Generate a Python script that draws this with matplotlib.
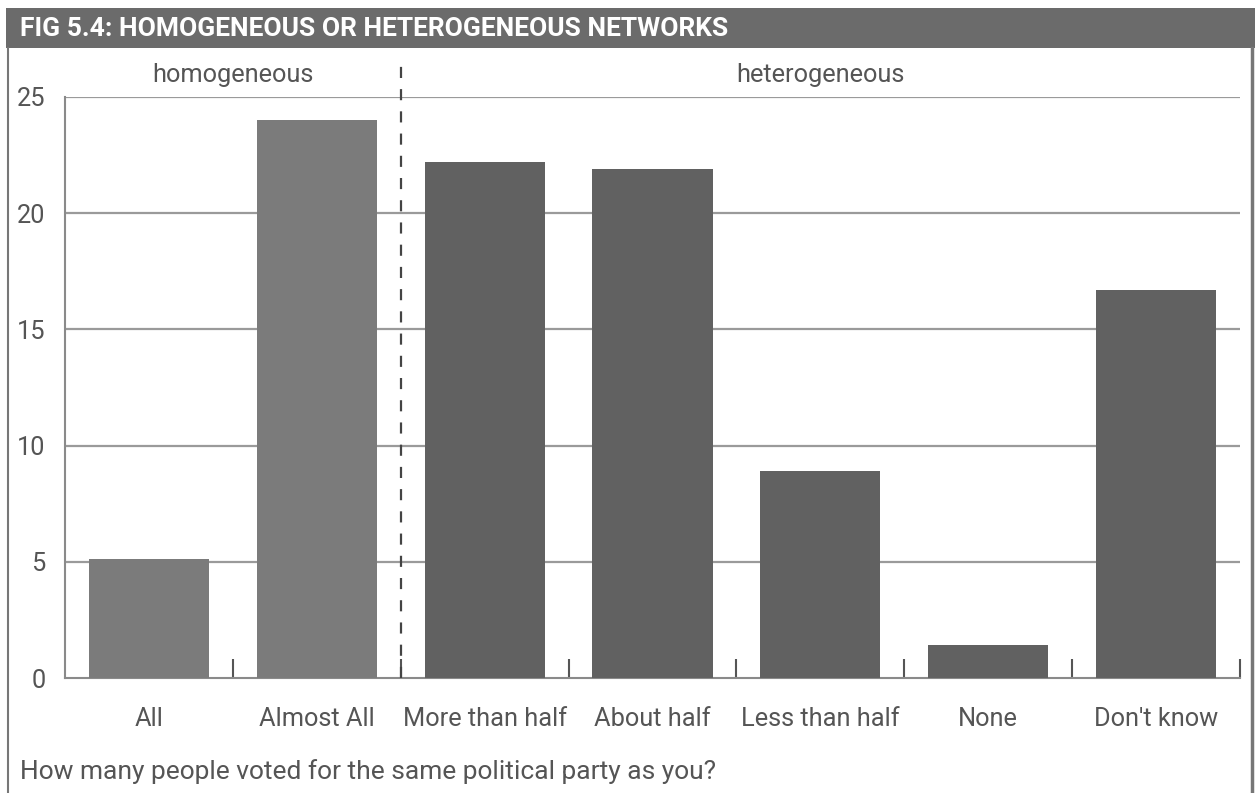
import matplotlib
matplotlib.use("Agg")
import matplotlib.pyplot as plt
from matplotlib.patches import Rectangle
from matplotlib.lines import Line2D

categories = ["All", "Almost All", "More than half", "About half", "Less than half", "None", "Don't know"]
values = [5.1, 24.0, 22.2, 21.9, 8.9, 1.4, 16.7]
groups = ["homogeneous", "homogeneous", "heterogeneous", "heterogeneous", "heterogeneous", "heterogeneous", "heterogeneous"]
yticks = [0, 5, 10, 15, 20, 25]
title = "FIG 5.4: HOMOGENEOUS OR HETEROGENEOUS NETWORKS"
xlabel = "How many people voted for the same political party as you?"

group_colors = {"homogeneous": "#7b7b7b", "heterogeneous": "#616161"}
text_color = "#555555"
plt.rcParams['font.family'] = ['Roboto', 'DejaVu Sans']
FS = 18.3

W, H = 1255, 793
fig = plt.figure(figsize=(W / 100, H / 100), dpi=100)

def fx(px):
    return px / W

def fy(py):
    return 1 - py / H

# title bar
fig.patches.append(Rectangle((fx(6), fy(48)), fx(1255) - fx(6), fy(8) - fy(48),
                             transform=fig.transFigure, facecolor="#6b6b6b", edgecolor="none", zorder=0))
fig.text(fx(20), fy(29), title, color="white", fontsize=19, fontweight="bold",
         va="center", ha="left")
# frame borders
fig.lines.append(Line2D([fx(8), fx(8)], [fy(48), fy(793)], transform=fig.transFigure,
                        color="#777777", lw=1.5))
fig.lines.append(Line2D([fx(1252), fx(1252)], [fy(48), fy(793)], transform=fig.transFigure,
                        color="#777777", lw=2.5))

ax = fig.add_axes([fx(65), fy(678), fx(1240) - fx(65), fy(97) - fy(678)])
x = list(range(len(categories)))
ax.bar(x, values, width=0.715, color=[group_colors[g] for g in groups], zorder=3)
ax.set_xlim(-0.5, len(categories) - 0.5)
ax.set_ylim(0, 25)
ax.set_yticks(yticks)
ax.set_yticklabels([str(t) for t in yticks])
ax.set_xticks(x)
ax.set_xticklabels(categories)
ax.set_xticks([i + 0.5 for i in x], minor=True)
ax.tick_params(axis="x", which="major", length=0, pad=21, labelsize=FS, labelcolor=text_color)
ax.tick_params(axis="x", which="minor", direction="in", length=14, width=1.5, color="#555555")
ax.tick_params(axis="y", length=0, pad=14, labelsize=FS, labelcolor=text_color)
for yv in yticks[1:]:
    ax.axhline(yv, color="#9a9a9a", lw=1.6, zorder=1)
for s in ["top", "right"]:
    ax.spines[s].set_visible(False)
for s in ["left", "bottom"]:
    ax.spines[s].set_color("#8a8a8a")
    ax.spines[s].set_linewidth(1.5)

# group divider
n_homo = groups.count("homogeneous")
ax.axvline(n_homo - 0.5, ymin=0, ymax=1.065, color="#444444", lw=1.6,
           linestyle=(0, (5, 5)), clip_on=False, zorder=4)
ax.text((-0.5 + n_homo - 0.5) / 2, 25.95, "homogeneous", ha="center", va="center",
        fontsize=FS, color=text_color)
ax.text((n_homo - 0.5 + len(categories) - 0.5) / 2, 25.95, "heterogeneous", ha="center",
        va="center", fontsize=FS, color=text_color)

fig.text(fx(20), fy(772), xlabel, fontsize=19, color=text_color, ha="left", va="center")

fig.savefig("out.png", dpi=100)
